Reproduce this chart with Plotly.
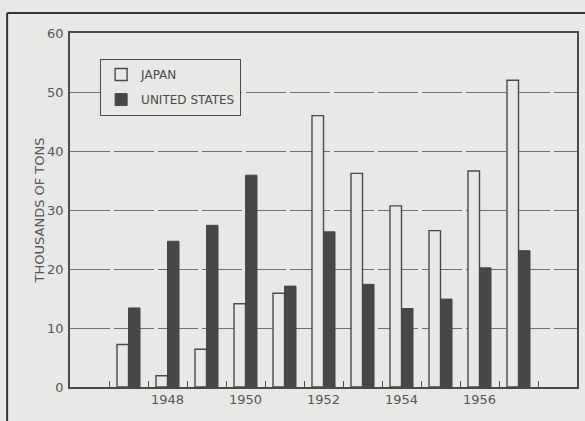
import plotly.graph_objects as go

years = [1947, 1948, 1949, 1950, 1951, 1952, 1953, 1954, 1955, 1956, 1957]
japan = [7.2, 1.9, 6.4, 14.1, 15.9, 46.0, 36.2, 30.7, 26.5, 36.6, 52.0]
united_states = [13.4, 24.7, 27.4, 35.9, 17.1, 26.3, 17.4, 13.3, 14.9, 20.2, 23.1]
x_label_years = [1948, 1950, 1952, 1954, 1956]
minor_tick_positions = [y + 0.5 for y in [1946] + years]
y_ticks = [0, 10, 20, 30, 40, 50, 60]

BG = "#e8e8e6"
INK = "#4a4a4a"
DARK = "#474747"
FONT = "DejaVu Sans"

fig = go.Figure()
fig.add_trace(go.Bar(
    x=years, y=japan, name="JAPAN", legendgroup="a",
    marker=dict(color=BG, line=dict(color=INK, width=1.4)),
))
fig.add_trace(go.Bar(
    x=years, y=united_states, name="UNITED STATES", legendgroup="b",
    marker=dict(color=DARK, line=dict(color=DARK, width=1)),
))

fig.update_layout(
    width=585, height=421,
    margin=dict(l=70, r=8, t=33, b=34, autoexpand=False),
    paper_bgcolor=BG, plot_bgcolor=BG,
    barmode="group", bargap=0.41, bargroupgap=0.0,
    font=dict(family=FONT, color=INK, size=13),
    legend=dict(
        x=0.059, y=0.927, xanchor="left", yanchor="top",
        bgcolor=BG, bordercolor=INK, borderwidth=1.2,
        font=dict(size=12, color=INK, family=FONT),
        traceorder="grouped", tracegroupgap=6,
    ),
    showlegend=True,
)

fig.update_xaxes(
    range=[1945.5, 1958.5], automargin=False,
    tickmode="array", tickvals=x_label_years,
    ticktext=[str(v) for v in x_label_years],
    ticks="", showgrid=False,
    showline=True, linecolor=INK, linewidth=1.5, mirror=True,
    tickfont=dict(size=13, color="#555555"),
    ticklabelstandoff=0,
    minor=dict(tickmode="array", tickvals=minor_tick_positions,
               ticks="inside", ticklen=6, tickcolor=INK, tickwidth=1,
               showgrid=False),
    zeroline=False,
)
fig.update_yaxes(
    range=[0, 60], automargin=False,
    tickmode="array", tickvals=y_ticks,
    ticks="", showgrid=True, gridcolor="#707070", gridwidth=1,
    griddash="40px,4px",
    showline=True, linecolor=INK, linewidth=1.5, mirror=True,
    tickfont=dict(size=13, color="#555555"),
    ticklabelstandoff=2,
    zeroline=False,
)

fig.add_annotation(
    text="THOUSANDS OF TONS", textangle=-90,
    xref="paper", yref="paper", x=-0.079, y=0.5,
    showarrow=False, font=dict(size=13, color="#555555", family=FONT),
)

# outer frame lines of the printed figure
fig.add_shape(type="line", xref="paper", yref="paper",
              x0=-0.124, x1=1.02, y0=1.0565, y1=1.0565,
              line=dict(color="#333333", width=2))
fig.add_shape(type="line", xref="paper", yref="paper",
              x0=-0.124, x1=-0.124, y0=1.0565, y1=-0.1,
              line=dict(color="#333333", width=2))

fig.write_html(
    "out.html",
    config={"displayModeBar": False},
    post_script="document.body.style.margin='0';document.body.style.overflow='hidden';"
                "document.body.style.background='" + BG + "';",
)
